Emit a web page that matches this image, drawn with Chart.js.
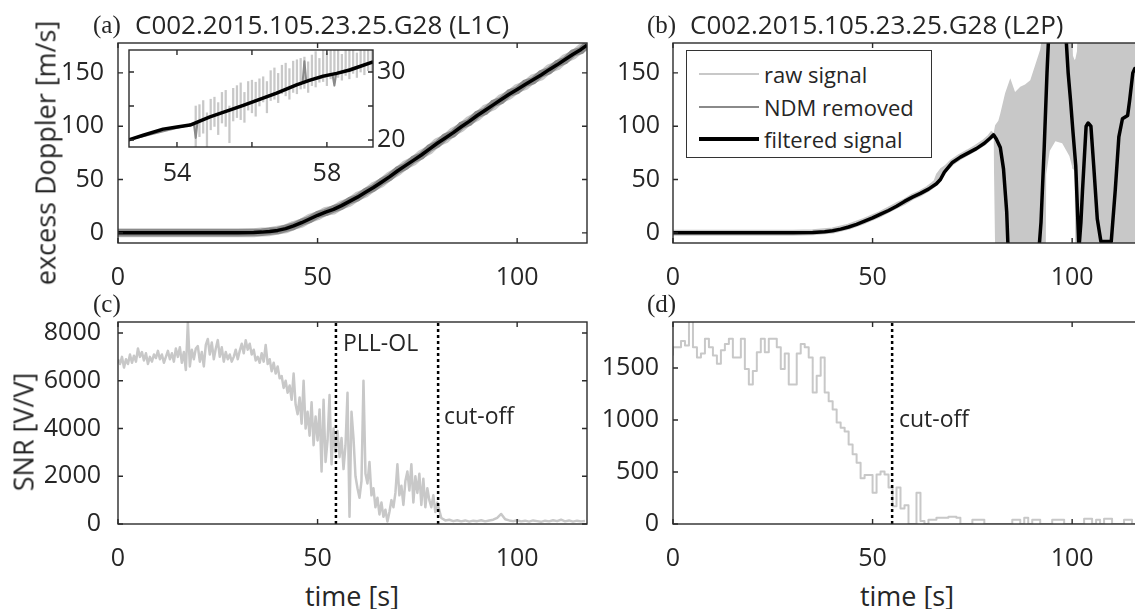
<!DOCTYPE html>
<html><head><meta charset="utf-8">
<script src="https://cdn.jsdelivr.net/npm/chart.js@4.4.1/dist/chart.umd.min.js"></script>
<style>
html,body{margin:0;padding:0;background:#fff;}
body{width:1135px;height:609px;overflow:hidden;position:relative;font-family:'Open Sans',sans-serif;color:#262626;}
canvas{position:absolute;}
.t{position:absolute;white-space:nowrap;line-height:1;transform:translateY(-50%);}
.c{position:absolute;white-space:nowrap;line-height:1;transform:translate(-50%,-50%);}
.r{position:absolute;white-space:nowrap;line-height:1;transform:translate(-50%,-50%) rotate(-90deg);}
.serif{font-family:'Liberation Serif','Times New Roman',serif;}
#legend{position:absolute;left:686px;top:50px;width:244px;height:106px;border:1px solid #333;background:#fff;}
#legend .row{position:absolute;left:0;height:0;}
#legend .smp{position:absolute;left:12px;width:60px;}
#legend .lt{position:absolute;left:77px;font-size:22px;line-height:1;transform:translateY(-50%);white-space:nowrap;}
</style></head><body>

<canvas id="cA" width="595" height="255" style="left:0px;top:38px"></canvas>
<canvas id="cB" width="590" height="255" style="left:560px;top:38px"></canvas>
<canvas id="cIn" width="294" height="147" style="left:124px;top:45px"></canvas>
<canvas id="cC" width="595" height="257" style="left:0px;top:317px"></canvas>
<canvas id="cD" width="590" height="257" style="left:560px;top:317px"></canvas>

<div class="t serif" style="left:93px;top:24px;font-size:25px">(a)</div>
<div class="t" style="left:135px;top:24px;font-size:26px">C002.2015.105.23.25.G28 (L1C)</div>
<div class="t serif" style="left:647px;top:24px;font-size:25px">(b)</div>
<div class="t" style="left:690px;top:24px;font-size:26px">C002.2015.105.23.25.G28 (L2P)</div>
<div class="t serif" style="left:93px;top:303px;font-size:25px">(c)</div>
<div class="t serif" style="left:647px;top:303px;font-size:25px">(d)</div>
<div class="r" style="left:45px;top:153px;font-size:27px">excess Doppler [m/s]</div>
<div class="r" style="left:23px;top:432px;font-size:27px">SNR [V/V]</div>
<div class="c" style="left:352px;top:595px;font-size:27px">time [s]</div>
<div class="c" style="left:907px;top:595px;font-size:27px">time [s]</div>
<div class="t" style="left:343px;top:342px;font-size:23px">PLL-OL</div>
<div class="t" style="left:444px;top:415px;font-size:23px">cut-off</div>
<div class="t" style="left:899px;top:418px;font-size:23px">cut-off</div>

<div id="legend">
  <div class="row" style="top:23px"><div class="smp" style="top:-1px;height:2px;background:#c8c8c8"></div><div class="lt">raw signal</div></div>
  <div class="row" style="top:56px"><div class="smp" style="top:-1px;height:2px;background:#8a8a8a"></div><div class="lt">NDM removed</div></div>
  <div class="row" style="top:88px"><div class="smp" style="top:-2px;height:4px;background:#000"></div><div class="lt">filtered signal</div></div>
</div>

<script>
// ---------------- tick definitions ----------------
const timeTicks = [0, 50, 100];
const dopplerTicks = [0, 50, 100, 150];
const snrL1Ticks = [0, 2000, 4000, 6000, 8000];
const snrL2Ticks = [0, 500, 1000, 1500];
const insetXTicks = [54, 56, 58];
const insetXTickLabels = ['54', '', '58'];
const insetYTicks = [20, 25, 30];
const insetYTickLabels = ['20', '', '30'];

// ---------------- (a) L1C excess Doppler ----------------
const l1Time = [0, 10, 20, 30, 34, 36, 38, 40, 42, 44, 46, 48, 50, 52, 54, 56, 58, 60, 62, 64, 66, 68, 70, 72, 74, 76, 78, 80, 82, 84, 86, 88, 90, 92, 94, 96, 98, 100, 102, 104, 106, 108, 110, 112, 114, 116, 117.5];
const l1Filtered = [0, 0, 0, 0, 0.3, 0.7, 1.3, 2.3, 4, 6.5, 9.5, 13, 16.5, 19.5, 22, 25.5, 29.5, 33.5, 38, 42.5, 47.5, 52.5, 58, 63, 68, 73, 78.5, 84, 89, 94, 99.5, 104.5, 110, 115, 120, 125, 130, 134.5, 139, 143.5, 148, 153, 157.5, 162.5, 167.5, 172, 176];
const l1Ndm = [0, 0, 0, 0, 0.4, 0.6, 1.5, 2.1, 4.3, 6.2, 9.9, 12.6, 17.0, 19.1, 22.5, 25.0, 30.1, 33.0, 38.6, 42.0, 48.1, 52.0, 58.7, 62.3, 68.8, 72.2, 79.4, 83.1, 90.0, 93.0, 100.6, 103.6, 111.0, 114.0, 121.2, 124.0, 131.0, 133.6, 140.1, 142.6, 149.2, 152.0, 158.6, 161.5, 168.6, 171.0, 176.5];
const l1Raw = [0, 0, 0, 0, 0.2, 0.9, 1.1, 2.6, 3.7, 6.9, 9.1, 13.6, 16.0, 20.2, 21.4, 26.2, 28.8, 34.3, 37.3, 43.3, 46.8, 53.2, 57.4, 63.8, 67.3, 73.8, 77.7, 84.9, 88.2, 94.9, 98.8, 105.4, 109.2, 115.9, 119.1, 125.9, 129.2, 135.4, 138.2, 144.4, 147.1, 153.9, 156.6, 163.4, 166.6, 172.9, 175.5];

// inset of (a): raw-signal spikes (min / max per 0.1 s sample)
const insetSpikeTime = [54.5, 54.6, 54.7, 54.8, 54.9, 55.0, 55.1, 55.2, 55.3, 55.4, 55.5, 55.6, 55.7, 55.8, 55.9, 56.0,
  56.1, 56.2, 56.3, 56.4, 56.5, 56.6, 56.7, 56.8, 56.9, 57.0, 57.1, 57.2, 57.3, 57.4, 57.5, 57.6,
  57.7, 57.8, 57.9, 58.0, 58.1, 58.2, 58.3, 58.4, 58.5, 58.6, 58.7, 58.8, 58.9, 59.0, 59.1, 59.2];
const insetSpikeLow = [18.0, 20.5, 21.0, 18.6, 21.5, 22.0, 20.8, 22.5, 22.0, 19.6, 22.8, 23.3, 23.0, 22.6, 24.4, 24.0,
  23.5, 25.0, 25.6, 24.0, 25.8, 26.0, 25.5, 26.8, 26.5, 26.0, 27.0, 26.8, 27.5, 27.6, 27.0, 28.0,
  27.8, 28.5, 28.6, 28.0, 29.0, 28.4, 29.2, 28.8, 29.5, 29.0, 29.8, 29.2, 30.0, 29.6, 30.2, 30.0];
const insetSpikeHigh = [25.0, 25.2, 25.8, 24.0, 26.0, 26.3, 25.5, 27.0, 27.3, 25.0, 27.6, 28.0, 28.4, 27.0, 28.6, 28.8,
  28.5, 29.0, 29.3, 28.6, 30.2, 30.6, 29.8, 31.0, 31.3, 30.5, 31.6, 31.8, 32.0, 32.2, 31.5, 32.5,
  33.0, 32.0, 33.3, 32.8, 33.5, 33.2, 33.3, 32.6, 33.5, 33.4, 33.5, 32.8, 33.5, 33.5, 33.5, 33.5];
const insetNdmTime = [52.7, 54.45, 54.5, 54.55, 57.35, 57.4, 57.45, 58.15, 58.2, 58.25, 59.23];
const insetNdm = [20.0, 22.4, 20.3, 22.7, 28.4, 31.6, 28.6, 29.6, 28.0, 29.8, 31.5];
const insetLineTime = [52.7, 53.1, 53.63, 54.0, 54.35, 54.88, 55.77, 56.66, 57.19, 57.55, 57.9, 58.26, 58.61, 59.23];
const insetLine = [20.0, 20.7, 21.6, 21.9, 22.2, 23.4, 25.1, 26.9, 28.1, 28.8, 29.4, 29.8, 30.3, 31.5];

// ---------------- (b) L2P excess Doppler ----------------
const l2Time = [0, 10, 20, 30, 35, 38, 40, 42, 44, 46, 48, 50, 52, 54, 56, 58, 60, 62, 64, 66, 67, 68, 70, 72, 74, 76, 78, 79.5, 80.3, 81, 82, 82.8, 83.3, 83.6, 84, 91.6, 92.2, 93, 93.7, 94.3, 98.2, 99, 99.6, 100.2, 100.9, 101.7, 102.2, 102.6, 103.5, 104, 104.7, 105.4, 106.3, 107.2, 109.8, 110.8, 111.7, 112.6, 113.9, 114.4, 115.2, 115.7, 116.4, 117, 117.5];
const l2Filtered = [0, 0, 0, 0, 0.3, 1, 2, 3.5, 5.5, 8, 11, 14, 17.5, 21, 25, 29.5, 33.5, 37, 41, 46, 50, 57, 66, 71, 75, 79, 84, 89, 92, 88, 80, 60, 35, 20, -20, -20, 10, 80, 150, 200, 200, 150, 124, 95, 63, -15, 10, 40, 100, 103, 100, 63, 13, -8, -8, 40, 90, 107, 110, 124, 150, 154, 154, 80, 40];
const l2RawTime = [0, 10, 20, 30, 35, 40, 44, 48, 52, 56, 58, 60, 62, 64, 65, 66, 66.6, 67.5, 68.5, 70, 72, 74, 76, 78, 79.5, 80.3];
const l2Raw = [0, 0, 0, 0, 0.5, 2.2, 5.8, 11.3, 17.8, 25.6, 29.2, 33.8, 37.2, 41.6, 44.5, 47.8, 54, 58.5, 61, 66.5, 71.5, 75.6, 80, 85, 90, 94];
const l2RawBandTime = [80.3, 80.7, 81.5, 82, 83.2, 84.5, 85.7, 87, 88.2, 89.5, 90.7, 92, 92.7, 93.4, 93.5, 94.4, 95.8, 97.5, 99.3, 100.0, 100.2, 100.6, 100.8, 101.2, 101.4, 117.5];
const l2RawBandUpper = [93, 101, 105, 112, 131, 145, 132, 137, 139, 143, 157, 172, 190, 190, 190, 190, 190, 190, 190, 190, 166, 162, 163, 170, 190, 190];
const l2RawBandLower = [90, -15, -15, -15, -15, -15, -15, -15, -15, -15, -15, -15, -15, -15, 55, 77, 86, 84, 72, 62, 60, 58, -15, -15, -15, -15];

// ---------------- (c) L1C SNR ----------------
const snrL1EarlyStep = 0.5; // t = 0 ... 80
const snrL1Early = [
  6900, 6700, 7000, 6550, 6900, 6700, 7100, 6750, 7050, 6800,
  7350, 7000, 7200, 6850, 7150, 6700, 7000, 6800, 7100, 6950,
  7250, 6900, 7100, 6750, 7000, 7250, 6900, 7150, 6800, 7350,
  7000, 7400, 6750, 7200, 6450, 8450, 6600, 7300, 6900, 7350,
  7450, 6800, 7200, 6600, 7500, 7750, 7100, 7600, 6900, 7350,
  7700, 7000, 7400, 6800, 7200, 6900, 7100, 6800, 7000, 7300,
  6900, 7250, 7550, 7150, 7700, 7300, 7550, 7100, 7300, 6850,
  7000, 6750, 7150, 6800, 7500, 6700, 6900, 6400, 6750, 6300,
  6600, 6100, 6200, 5700, 6000, 5500, 5800, 5200, 6300, 5000,
  4600, 5300, 4200, 6000, 4000, 4700, 3700, 5100, 3300, 4500,
  3500, 4800, 2200, 5200, 2600, 3500, 5400, 2500, 4000, 3000,
  3900, 2800, 3600, 2300, 3300, 5500, 300, 4700, 3600, 2000,
  1500, 1100, 1800, 6000, 2100, 1700, 2600, 1200, 1500, 700,
  1100, 400, 900, 300, 600, 100, 500, 1000, 700, 1300,
  2500, 1200, 1600, 800, 1800, 2200, 1400, 2500, 900, 2000,
  1300, 2100, 800, 1900, 700, 1500, 1000, 700, 1200, 500,
  900];
const snrL1LateStart = 81; // 1 s steps
const snrL1Late = [250, 150, 180, 120, 160, 110, 150, 100, 140, 120,
  160, 110, 150, 180, 260, 420, 200, 150, 120, 160,
  110, 140, 100, 150, 120, 90, 140, 110, 160, 120,
  180, 110, 150, 100, 140, 110, 130];
const pllOpenLoopTime = 54.6;
const cutoffL1Time = 80.2;

// ---------------- (d) L2P SNR ----------------
const snrL2 = [ // t = 0 ... 117, 1 s steps
  1620, 1700, 1700, 1760, 1715, 1950, 1700, 1600, 1640, 1780,
  1700, 1620, 1540, 1670, 1730, 1780, 1600, 1600, 1780, 1490,
  1340, 1470, 1650, 1780, 1650, 1780, 1780, 1700, 1490, 1640,
  1340, 1340, 1640, 1730, 1700, 1600, 1264, 1425, 1600, 1264,
  1180, 1100, 975, 925, 890, 765, 670, 590, 440, 470,
  470, 300, 475, 505, 475, 350, 170, 350, 150, 180,
  0, 0, 300, 30, 0, 40, 40, 60, 60, 60,
  70, 70, 60, 0, 0, 0, 40, 40, 40, 0,
  0, 0, 0, 0, 0, 0, 40, 40, 0, 60,
  0, 40, 40, 0, 0, 0, 40, 40, 40, 0,
  0, 0, 0, 0, 50, 50, 0, 40, 0, 50,
  50, 0, 0, 0, 40, 40, 0, 0];
const cutoffL2Time = 54.9;

// ---------------- axis limits ----------------
const timeRange = [0, 117.5];
const dopplerRange = [-9.5, 178];
const snrL1Range = [0, 8460];
const snrL2Range = [0, 1942];
const insetTimeRange = [52.72, 59.23];
const insetDopplerRange = [18.97, 33.24];

// ---------------- helpers ----------------
const pts = (xs, ys) => ys.map((y, i) => ({x: xs[i], y}));
const stepPts = (start, step, ys) => ys.map((y, i) => ({x: +(start + i * step).toFixed(3), y}));

Chart.defaults.font.family = "'Open Sans', sans-serif";
Chart.defaults.color = '#262626';

const INK = '#2b2b2b';
const RAW = '#c8c8c8', NDM = '#8a8a8a';
const TICK_FONT = 25;

const framePlugin = {
  id: 'frameTicks',
  afterDatasetsDraw(chart) {
    const {ctx, chartArea: a, scales} = chart;
    const L = 5;
    ctx.save();
    ctx.strokeStyle = INK;
    ctx.lineWidth = 1.4;
    ctx.beginPath();
    scales.x.ticks.forEach(t => {
      const p = scales.x.getPixelForValue(t.value);
      ctx.moveTo(p, a.bottom); ctx.lineTo(p, a.bottom - L);
      ctx.moveTo(p, a.top); ctx.lineTo(p, a.top + L);
    });
    scales.y.ticks.forEach(t => {
      const p = scales.y.getPixelForValue(t.value);
      ctx.moveTo(a.left, p); ctx.lineTo(a.left + L, p);
      ctx.moveTo(a.right, p); ctx.lineTo(a.right - L, p);
    });
    ctx.stroke();
    ctx.strokeRect(a.left, a.top, a.right - a.left, a.bottom - a.top);
    ctx.restore();
  }
};

function xAxis(range, ticks, labels, pad, h, size) {
  return {
    type: 'linear', position: 'bottom', min: range[0], max: range[1], offset: false,
    grid: {display: false, drawTicks: false, offset: false}, border: {display: false},
    afterBuildTicks: s => { s.ticks = ticks.map(v => ({value: v})); },
    afterFit: s => { s.height = h; s.paddingLeft = 0; s.paddingRight = 0; s.paddingTop = 0; s.paddingBottom = 0; },
    ticks: {autoSkip: false, maxRotation: 0, padding: pad, color: '#262626',
      font: {size: size}, callback: (v, i) => labels ? labels[i] : String(ticks[i])}
  };
}
function yAxis(range, ticks, labels, pad, w, size, pos) {
  return {
    type: 'linear', position: pos || 'left', min: range[0], max: range[1],
    grid: {display: false, drawTicks: false}, border: {display: false},
    afterBuildTicks: s => { s.ticks = ticks.map(v => ({value: v})); },
    afterFit: s => { s.width = w; s.paddingTop = 0; s.paddingBottom = 0; s.paddingLeft = 0; s.paddingRight = 0; },
    ticks: {autoSkip: false, padding: pad, color: '#262626',
      font: {size: size}, callback: (v, i) => labels ? labels[i] : String(ticks[i])}
  };
}
function ds(data, color, width, extra) {
  return Object.assign({data, borderColor: color, backgroundColor: color, borderWidth: width,
    pointRadius: 0, tension: 0, fill: false, clip: 0, borderJoinStyle: 'round', borderCapStyle: 'butt'}, extra || {});
}
function make(id, datasets, scales, padding) {
  return new Chart(document.getElementById(id), {
    type: 'line',
    data: {datasets},
    options: {
      responsive: false, animation: false, devicePixelRatio: 1,
      layout: {padding},
      plugins: {legend: {display: false}, tooltip: {enabled: false}},
      scales
    },
    plugins: [framePlugin]
  });
}

// (a)
make('cA', [
  ds(pts(l1Time, l1Filtered), '#000', 3.5),
  ds(pts(l1Time, l1Ndm), NDM, 7.5),
  ds(pts(l1Time, l1Raw), RAW, 9)
], {
  x: xAxis(timeRange, timeTicks, null, 20, 50, TICK_FONT),
  y: yAxis(dopplerRange, dopplerTicks, null, 14, 118, TICK_FONT)
}, {top: 5, right: 8, left: 0, bottom: 0});

// (b)
make('cB', [
  ds(pts(l2Time, l2Filtered), '#000', 3.5),
  ds(pts(l2RawBandTime, l2RawBandUpper), RAW, 0, {fill: '+1', backgroundColor: RAW}),
  ds(pts(l2RawBandTime, l2RawBandLower), RAW, 0),
  ds(pts(l2RawTime, l2Raw), RAW, 6)
], {
  x: xAxis(timeRange, timeTicks, null, 20, 50, TICK_FONT),
  y: yAxis(dopplerRange, dopplerTicks, null, 13, 113, TICK_FONT)
}, {top: 5, right: 8, left: 0, bottom: 0});

// inset
make('cIn', [
  ds(pts(insetLineTime, insetLine), '#000', 3.5),
  ds(pts(insetNdmTime, insetNdm), NDM, 2),
  {type: 'bar', data: insetSpikeTime.map((t, i) => ({x: t, y: [insetSpikeLow[i], insetSpikeHigh[i]]})),
   backgroundColor: RAW, borderWidth: 0, barThickness: 1.6, grouped: false, clip: 0}
], {
  x: xAxis(insetTimeRange, insetXTicks, insetXTickLabels, 12, 45, TICK_FONT),
  y: yAxis(insetDopplerRange, insetYTicks, insetYTickLabels, 4, 45, TICK_FONT, 'right')
}, {top: 5, right: 0, left: 5, bottom: 0});

// (c)
const snrL1Points = stepPts(0, snrL1EarlyStep, snrL1Early).concat(stepPts(snrL1LateStart, 1, snrL1Late));
make('cC', [
  ds([{x: pllOpenLoopTime, y: snrL1Range[0]}, {x: pllOpenLoopTime, y: snrL1Range[1]}], '#000', 2.5, {borderDash: [3, 3]}),
  ds([{x: cutoffL1Time, y: snrL1Range[0]}, {x: cutoffL1Time, y: snrL1Range[1]}], '#000', 2.5, {borderDash: [3, 3]}),
  ds(snrL1Points, RAW, 2.5)
], {
  x: xAxis(timeRange, timeTicks, null, 20, 50, TICK_FONT),
  y: yAxis(snrL1Range, snrL1Ticks, null, 17, 118, TICK_FONT)
}, {top: 5, right: 8, left: 0, bottom: 0});

// (d)
make('cD', [
  ds([{x: cutoffL2Time, y: snrL2Range[0]}, {x: cutoffL2Time, y: snrL2Range[1]}], '#000', 2.5, {borderDash: [3, 3]}),
  ds(stepPts(0, 1, snrL2), RAW, 2, {stepped: 'after'})
], {
  x: xAxis(timeRange, timeTicks, null, 20, 50, TICK_FONT),
  y: yAxis(snrL2Range, snrL2Ticks, null, 14, 113, TICK_FONT)
}, {top: 5, right: 8, left: 0, bottom: 0});
</script>
</body></html>
